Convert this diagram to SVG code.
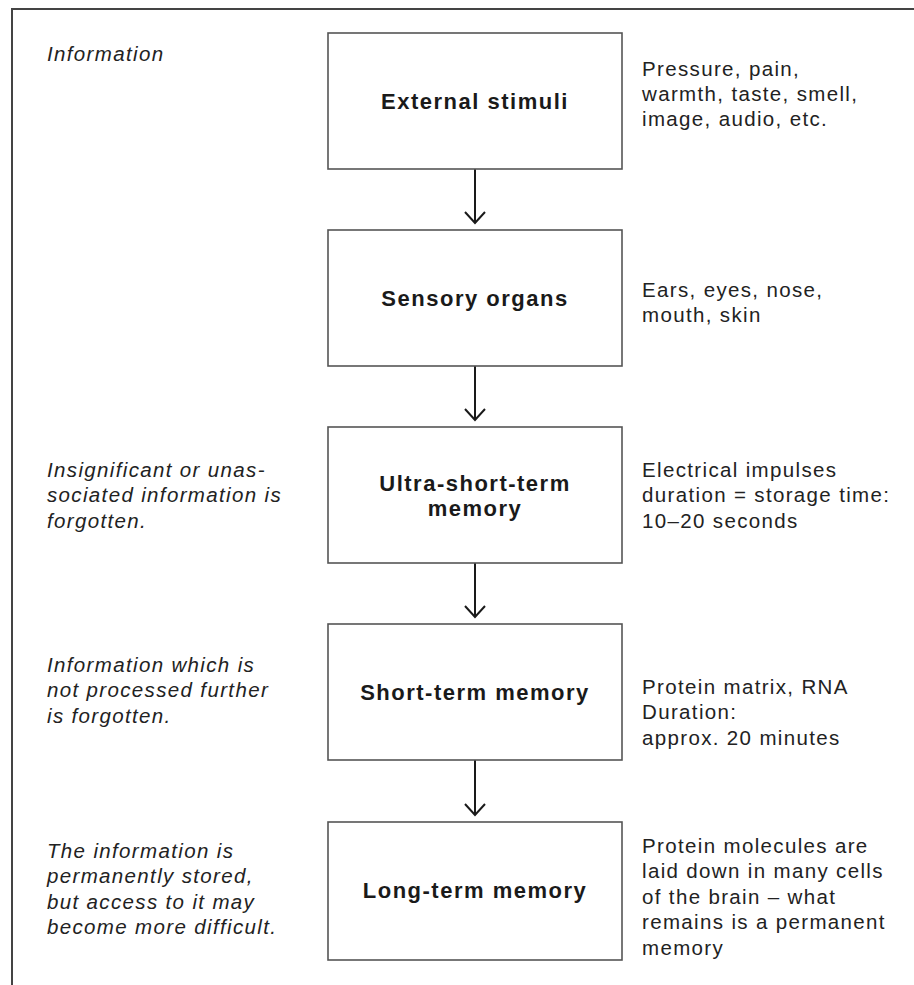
<svg xmlns="http://www.w3.org/2000/svg" width="914" height="985" viewBox="0 0 914 985">
<style>
.frame{stroke:#444;stroke-width:2;fill:none}
.box{fill:#fff;stroke:#555;stroke-width:1.6}
.lbl{font-family:"Liberation Sans",Arial,sans-serif;font-weight:bold;font-size:22px;letter-spacing:1.5px;fill:#1a1a1a;text-anchor:middle}
.r{font-family:"Liberation Sans",Arial,sans-serif;font-size:20.5px;letter-spacing:1.35px;fill:#222}
.l{font-family:"Liberation Sans",Arial,sans-serif;font-style:italic;font-size:20.5px;letter-spacing:1.35px;fill:#222}
.conn{stroke:#1a1a1a;stroke-width:2;fill:none}
</style>
<g id="frame">
<path class="frame" d="M12 985 V9 H914"/>
</g>
<g id="connectors">
<path class="conn" d="M475 169 V223 M465 212 L475 223 L485 212"/>
<path class="conn" d="M475 366 V420 M465 409 L475 420 L485 409"/>
<path class="conn" d="M475 563 V617 M465 606 L475 617 L485 606"/>
<path class="conn" d="M475 760 V815 M465 804 L475 815 L485 804"/>
</g>
<g id="left-notes">
<text class="l" x="47" y="61">Information</text>
<text class="l" x="47" y="477">Insignificant or unas-</text>
<text class="l" x="47" y="502">sociated information is</text>
<text class="l" x="47" y="528">forgotten.</text>
<text class="l" x="47" y="672">Information which is</text>
<text class="l" x="47" y="697">not processed further</text>
<text class="l" x="47" y="723">is forgotten.</text>
<text class="l" x="47" y="858">The information is</text>
<text class="l" x="47" y="883">permanently stored,</text>
<text class="l" x="47" y="909">but access to it may</text>
<text class="l" x="47" y="934">become more difficult.</text>
</g>
<g id="node-external">
<rect class="box" x="328" y="33" width="294" height="136"/>
<text class="lbl" x="475" y="109">External stimuli</text>
<text class="r" x="642" y="76">Pressure, pain,</text>
<text class="r" x="642" y="101">warmth, taste, smell,</text>
<text class="r" x="642" y="126">image, audio, etc.</text>
</g>
<g id="node-sensory">
<rect class="box" x="328" y="230" width="294" height="136"/>
<text class="lbl" x="475" y="306">Sensory organs</text>
<text class="r" x="642" y="297">Ears, eyes, nose,</text>
<text class="r" x="642" y="322">mouth, skin</text>
</g>
<g id="node-ultra">
<rect class="box" x="328" y="427" width="294" height="136"/>
<text class="lbl" x="475" y="491">Ultra-short-term</text>
<text class="lbl" x="475" y="516">memory</text>
<text class="r" x="642" y="477">Electrical impulses</text>
<text class="r" x="642" y="502">duration = storage time:</text>
<text class="r" x="642" y="528">10–20 seconds</text>
</g>
<g id="node-short">
<rect class="box" x="328" y="624" width="294" height="136"/>
<text class="lbl" x="475" y="700">Short-term memory</text>
<text class="r" x="642" y="694">Protein matrix, RNA</text>
<text class="r" x="642" y="719">Duration:</text>
<text class="r" x="642" y="745">approx. 20 minutes</text>
</g>
<g id="node-long">
<rect class="box" x="328" y="822" width="294" height="138"/>
<text class="lbl" x="475" y="898">Long-term memory</text>
<text class="r" x="642" y="853">Protein molecules are</text>
<text class="r" x="642" y="878">laid down in many cells</text>
<text class="r" x="642" y="904">of the brain – what</text>
<text class="r" x="642" y="929">remains is a permanent</text>
<text class="r" x="642" y="955">memory</text>
</g>
</svg>
